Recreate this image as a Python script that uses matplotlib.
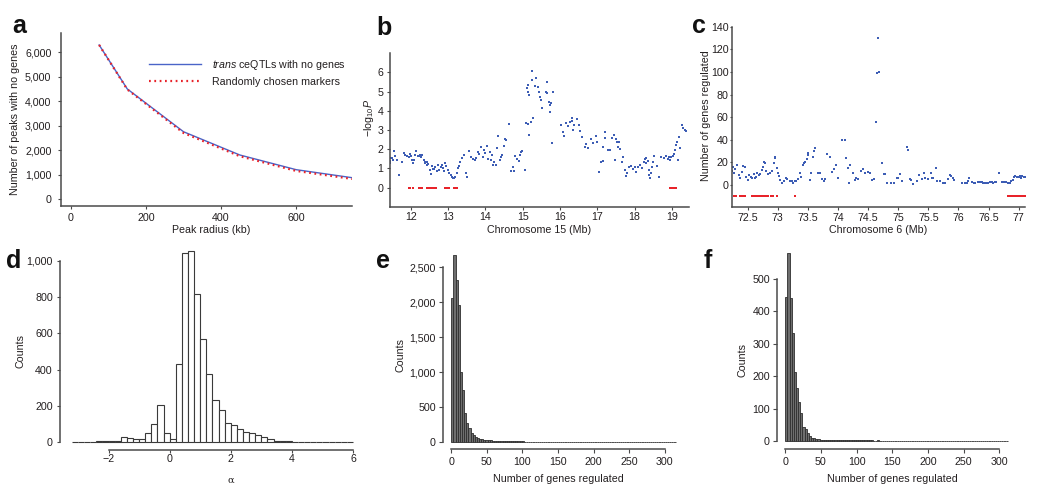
import matplotlib
matplotlib.use('Agg')
import matplotlib.pyplot as plt
from matplotlib.ticker import FuncFormatter

plt.rcParams['font.family'] = ['Liberation Sans', 'DejaVu Sans']
plt.rcParams['mathtext.fontset'] = 'custom'
plt.rcParams['mathtext.rm'] = 'Liberation Sans'
plt.rcParams['mathtext.it'] = 'Liberation Sans:italic'
plt.rcParams['mathtext.bf'] = 'Liberation Sans:bold'

# ---------------- data ----------------
# panel a
radius_kb = [75, 150, 300, 450, 600, 750]
peaks_trans = [6300, 4500, 2750, 1800, 1200, 870]
peaks_random = [6300, 4480, 2700, 1750, 1150, 820]

# panel b  (chromosome 15, -log10 P)
b_x = [11.41, 11.42, 11.43, 11.44, 11.45, 11.49, 11.52, 11.55, 11.58, 11.63, 11.69, 11.75, 11.81, 11.85, 11.9,
       11.94, 11.97, 12.0, 12.03, 12.05, 12.08, 12.12, 12.15, 12.18, 12.21, 12.24, 12.28, 12.31, 12.34, 12.37,
       12.39, 12.42, 12.44, 12.47, 12.5, 12.53, 12.56, 12.6, 12.63, 12.66, 12.69, 12.73, 12.76, 12.8, 12.83,
       12.86, 12.89, 12.92, 12.95, 12.99, 13.03, 13.08, 13.11, 13.13, 13.16, 13.19, 13.23, 13.26, 13.29, 13.32,
       13.37, 13.43, 13.49, 13.51, 13.57, 13.62, 13.66, 13.71, 13.75, 13.8, 13.84, 13.87, 13.93, 13.97, 14.0,
       14.04, 14.07, 14.11, 14.15, 14.17, 14.2, 14.24, 14.29, 14.3, 14.33, 14.38, 14.42, 14.45, 14.49, 14.52,
       14.56, 14.64, 14.69, 14.74, 14.77, 14.8, 14.84, 14.89, 14.93, 14.96, 14.99, 15.06, 15.1, 15.11, 15.13,
       15.14, 15.15, 15.17, 15.18, 15.21, 15.24, 15.26, 15.28, 15.33, 15.36, 15.41, 15.44, 15.46, 15.49, 15.53,
       15.62, 15.64, 15.66, 15.7, 15.72, 15.73, 15.75, 15.78, 15.82, 16.04, 16.09, 16.1, 16.16, 16.22, 16.27,
       16.31, 16.33, 16.36, 16.38, 16.45, 16.5, 16.54, 16.6, 16.66, 16.7, 16.74, 16.84, 16.88, 16.96, 17.0,
       17.04, 17.11, 17.15, 17.15, 17.2, 17.22, 17.29, 17.35, 17.4, 17.46, 17.48, 17.5, 17.53, 17.56, 17.58,
       17.6, 17.67, 17.7, 17.73, 17.77, 17.8, 17.84, 17.91, 17.95, 18.0, 18.05, 18.1, 18.15, 18.2, 18.24,
       18.28, 18.3, 18.32, 18.35, 18.38, 18.4, 18.42, 18.44, 18.47, 18.5, 18.53, 18.6, 18.66, 18.72, 18.78,
       18.84, 18.9, 18.93, 18.96, 18.99, 19.02, 19.05, 19.08, 19.11, 19.14, 19.17, 19.2, 19.23, 19.26, 19.3,
       19.34, 19.39]
b_y = [1.85, 1.6, 1.4, 1.3, 1.55, 1.53, 1.45, 1.88, 1.62, 1.44, 0.63, 1.35, 1.79, 1.7, 1.62,
       1.6, 1.75, 1.62, 1.45, 1.27, 1.44, 1.7, 1.88, 1.62, 1.65, 1.68, 1.6, 1.7, 1.44, 1.35,
       1.27, 1.15, 1.35, 1.25, 0.9, 0.73, 1.1, 0.98, 0.95, 1.05, 0.85, 1.15, 0.9, 1.05, 1.15,
       1.0, 0.85, 1.27, 1.1, 0.9, 0.78, 0.66, 0.55, 0.5, 0.48, 0.55, 0.75, 1.0, 1.1, 1.35,
       1.53, 1.7, 0.75, 0.57, 1.88, 1.58, 1.48, 1.44, 1.53, 1.83, 1.75, 2.1, 1.6, 1.95, 1.8,
       2.17, 1.5, 1.83, 1.45, 1.7, 1.2, 1.35, 1.2, 2.05, 2.7, 1.44, 1.6, 1.7, 2.17, 2.53,
       2.48, 3.33, 0.86, 1.06, 0.86, 1.62, 1.48, 1.4, 1.7, 1.83, 1.88, 0.92, 3.37, 5.17, 5.0,
       3.3, 5.35, 2.75, 4.83, 3.43, 5.61, 6.1, 3.6, 5.3, 5.7, 5.25, 4.97, 4.74, 4.57, 4.17,
       5.0, 5.52, 4.95, 4.46, 4.3, 3.93, 4.42, 2.31, 5.0, 3.26, 2.87, 2.71, 3.38, 3.2, 3.4,
       3.6, 3.45, 3.0, 3.25, 3.56, 3.26, 2.97, 2.66, 2.1, 2.28, 2.05, 2.51, 2.34, 2.69, 2.4,
       0.83, 1.35, 1.4, 2.1, 2.92, 2.6, 1.96, 1.96, 2.57, 2.75, 1.41, 2.55, 2.4, 2.1, 2.4,
       2.0, 1.35, 1.58, 0.92, 0.61, 0.75, 1.06, 1.1, 0.95, 1.05, 0.8, 1.05, 1.15, 1.03, 1.35,
       1.48, 1.52, 1.27, 1.4, 0.92, 0.66, 0.49, 0.75, 1.06, 1.35, 1.62, 1.13, 0.57, 1.6, 1.52,
       1.62, 1.5, 1.58, 1.45, 1.6, 1.65, 1.75, 1.96, 2.22, 2.4, 1.45, 2.62, 2.05, 3.25, 3.1,
       3.0, 2.95]
b_genes = [11.95, 11.98, 12.05, 12.21, 12.23, 12.27, 12.31, 12.43, 12.45, 12.47, 12.49, 12.51, 12.53,
           12.55, 12.57, 12.59, 12.61, 12.63, 12.65, 12.67, 12.92, 12.94, 12.96, 12.98, 13.01, 13.15,
           13.17, 13.19, 13.21, 13.23, 13.25, 18.96, 18.98, 19.0, 19.02, 19.04, 19.06, 19.08, 19.1, 19.12]

# panel c  (chromosome 6, number of genes regulated)
c_x = [72.24, 72.25, 72.27, 72.29, 72.32, 72.35, 72.38, 72.41, 72.43, 72.45, 72.48, 72.5, 72.53, 72.55,
       72.58, 72.6, 72.62, 72.64, 72.66, 72.69, 72.71, 72.73, 72.75, 72.77, 72.79, 72.81, 72.84, 72.87,
       72.9, 72.93, 72.95, 72.96, 72.98, 73.0, 73.02, 73.04, 73.07, 73.1, 73.13, 73.16, 73.2, 73.23,
       73.26, 73.29, 73.31, 73.34, 73.37, 73.39, 73.42, 73.44, 73.46, 73.48, 73.5, 73.51, 73.53, 73.56,
       73.59, 73.6, 73.62, 73.67, 73.7, 73.73, 73.76, 73.79, 73.82, 73.86, 73.9, 73.94, 73.97, 74.0,
       74.07, 74.11, 74.13, 74.17, 74.18, 74.2, 74.25, 74.28, 74.3, 74.33, 74.39, 74.42, 74.45, 74.5,
       74.53, 74.56, 74.59, 74.63, 74.64, 74.67, 74.68, 74.73, 74.76, 74.78, 74.82, 74.88, 74.93, 74.98,
       75.0, 75.03, 75.07, 75.14, 75.17, 75.2, 75.22, 75.25, 75.32, 75.35, 75.39, 75.42, 75.45, 75.5,
       75.54, 75.56, 75.58, 75.62, 75.65, 75.69, 75.75, 75.78, 75.82, 75.86, 75.88, 75.91, 75.93, 76.06,
       76.11, 76.14, 76.16, 76.18, 76.22, 76.25, 76.28, 76.33, 76.36, 76.39, 76.41, 76.44, 76.47, 76.49,
       76.52, 76.55, 76.58, 76.6, 76.63, 76.68, 76.72, 76.76, 76.79, 76.82, 76.85, 76.88, 76.91, 76.93,
       76.94, 76.97, 77.0, 77.02, 77.04, 77.06, 77.09, 77.12]
c_y = [12, 16, 11, 14, 17.7, 8.8, 5.9, 11.8, 16.8, 15.7, 7.4, 4.4, 8.8, 7.4, 5.9, 9.5, 6.5, 7.4,
       10.9, 8.8, 9.5, 13.3, 16.2, 20.1, 19.2, 12, 9.5, 10.9, 12.5, 19.2, 23.6, 25.1, 14.7, 10.3, 8.0,
       4.4, 2.1, 3.8, 5.9, 5.0, 3.8, 3.2, 2.1, 3.2, 3.2, 5.0, 10.9, 7.4, 17.5, 19.2, 20.6, 23, 26.8,
       28.3, 4.4, 10.3, 25, 30.4, 32.4, 10.3, 10.3, 5.0, 3.8, 5.0, 27.4, 25, 11.8, 14, 17.7, 6.5,
       39.8, 39.8, 24.2, 15.3, 2.1, 18, 10.3, 4.4, 5.9, 5.0, 12.4, 14, 10.9, 11.8, 10.3, 4.4, 5.0,
       56, 99, 130, 100.3, 19.2, 9.4, 9.4, 1.5, 1.5, 2.1, 6.5, 5.9, 9.4, 3.2, 33.3, 31, 5.0,
       4.4, 0.9, 3.2, 8.8, 5.0, 10.3, 5.9, 5.0, 10.3, 6.5, 5.9, 14.7, 3.2, 3.2, 2.1, 2.1, 5.0,
       8.8, 8.3, 5.9, 4.4, 2.1, 2.1, 2.1, 3.5, 5.9, 2.6, 2.1, 2.1, 2.6, 2.6, 2.3, 2.1, 1.5, 2.1,
       1.5, 2.6, 2.6, 2.1, 2.6, 2.6, 10.3, 2.6, 2.6, 2.3, 1.5, 2.1, 3.8, 4.4, 7.4, 8.0, 6.8, 7.4,
       8.0, 6.5, 8.3, 7.4, 7.4]
c_genes = [72.28, 72.31, 72.37, 72.41, 72.43, 72.46, 72.57, 72.59, 72.61, 72.63, 72.65, 72.67, 72.69,
           72.71, 72.73, 72.75, 72.77, 72.79, 72.81, 72.83, 72.88, 72.92, 72.98, 73.28, 76.83, 76.85,
           76.87, 76.89, 76.91, 76.93, 76.95, 76.97, 76.99, 77.01, 77.03, 77.05, 77.07, 77.09, 77.11]

# panel d  (histogram of alpha, bin width 0.2 from -3.2)
alpha_edges_start = -3.2
alpha_bin = 0.2
alpha_counts = [0, 0, 1, 2, 3, 4, 6, 7, 30, 22, 14, 17, 48, 100, 205, 50, 16, 430, 1046, 1057,
                816, 569, 374, 234, 176, 105, 92, 70, 57, 48, 37, 26, 15, 8, 5, 3, 2, 2, 1, 1,
                1, 0, 0, 0, 0, 0]

# panel e  (histogram, bin width 3)
e_bin = 3
e_counts = [2064, 2680, 2320, 1960, 1006, 744, 420, 267, 196, 134, 100, 76, 62, 45, 40, 34, 30, 26,
            22, 20, 18, 16, 15, 14, 12, 12, 11, 10, 10, 9, 9, 8, 8, 8, 7, 7, 7, 6, 6, 6, 6, 5, 5, 5,
            5, 5, 4, 4, 4, 4, 4, 4, 3, 3, 3, 3, 3, 3, 3, 3, 3, 2, 2, 2, 2, 2, 2, 2, 2, 2, 2, 2, 2, 2,
            2, 2, 2, 2, 2, 2, 2, 2, 2, 2, 2, 2, 2, 2, 2, 2, 2, 2, 2, 2, 2, 2, 2, 2, 2, 2, 2, 2, 2, 2, 2]

# panel f  (histogram, bin width 3)
f_bin = 3
f_counts = [442, 580, 440, 332, 213, 162, 121, 85, 44, 38, 25, 15, 10, 8, 6, 5, 4, 3, 3, 3, 2, 2, 2,
            3, 2, 2, 2, 2, 2, 3, 2, 2, 2, 2, 2, 2, 2, 2, 3, 2, 2, 1, 1, 2, 1, 1, 1, 1, 1, 1, 1, 1, 1,
            1, 1, 1, 1, 1, 1, 1, 1, 1, 1, 1, 1, 1, 1, 1, 1, 1, 1, 1, 1, 1, 1, 1, 1, 1, 1, 1, 1, 1, 1,
            1, 1, 1, 1, 1, 1, 1, 1, 1, 1, 1, 1, 1, 1, 1, 1, 1, 1, 1, 1, 1]

# ---------------- drawing ----------------
W, H = 1050, 497
fig = plt.figure(figsize=(10.5, 4.97), dpi=100)
TXT = '#231f20'
SP = '#4a4a4a'
FS = 7.7
BLUE = '#3d5db5'
RED = '#e8232a'


def axpx(l, t, r, b):
    return fig.add_axes([l / W, 1 - b / H, (r - l) / W, (b - t) / H])


def ftext(x, y, s, **kw):
    kw.setdefault('color', TXT)
    kw.setdefault('fontsize', FS)
    kw.setdefault('ha', 'center')
    kw.setdefault('va', 'center')
    fig.text(x / W, 1 - y / H, s, **kw)


def style(ax, xpad, ypad, xlen=2.4, ylen=2.4):
    for s in ['top', 'right']:
        ax.spines[s].set_visible(False)
    for s in ['left', 'bottom']:
        ax.spines[s].set_color(SP)
        ax.spines[s].set_linewidth(1.1)
    ax.tick_params(axis='x', direction='out', length=xlen, width=0.8, color=SP,
                   labelsize=FS, labelcolor=TXT, pad=xpad)
    ax.tick_params(axis='y', direction='out', length=ylen, width=0.8, color=SP,
                   labelsize=FS, labelcolor=TXT, pad=ypad)
    ax.patch.set_alpha(0)


comma = FuncFormatter(lambda v, p: f'{int(round(v)):,}')

# ---- a ----
axa = axpx(61, 33.3, 352, 206)
axa.plot(radius_kb, peaks_trans, color='#4a64c8', lw=1.0, label=r'$\it{trans}$ ceQTLs with no genes')
axa.plot(radius_kb, peaks_random, color=RED, lw=1.6, ls=(0, (0.8, 1.6)), label='Randomly chosen markers')
axa.set_xlim(-26.7, 749)
axa.set_ylim(-286, 6777)
axa.set_xticks([0, 200, 400, 600])
axa.set_yticks([0, 1000, 2000, 3000, 4000, 5000, 6000])
axa.yaxis.set_major_formatter(comma)
style(axa, xpad=2.5, ypad=4.5)
axa.legend(loc='upper left', bbox_to_anchor=(149 / W, 1 - 58 / H), bbox_transform=fig.transFigure,
           frameon=False, fontsize=FS, handlelength=4.9, handletextpad=0.95, labelspacing=0.45,
           borderpad=0, borderaxespad=0, labelcolor=TXT)
ftext(15, 119, 'Number of peaks with no genes', rotation=90)
ftext(211.5, 230, 'Peak radius (kb)')

# ---- b ----
axb = axpx(390, 53.3, 689, 206.7)
axb.scatter(b_x, b_y, s=3.5, marker='s', color=BLUE, linewidths=0)
axb.plot(b_genes, [0] * len(b_genes), ls='none', marker='s', ms=1.8, mew=0, color=RED)
axb.set_xlim(11.44, 19.46)
axb.set_ylim(-1, 7)
axb.set_xticks(list(range(12, 20)))
axb.set_yticks(list(range(0, 7)))
style(axb, xpad=1.5, ypad=2.5)
ftext(368.5, 118, r'$-\mathrm{log}_{10}\mathit{P}$', rotation=90)
ftext(539.5, 230, 'Chromosome 15 (Mb)')

# ---- c ----
axc = axpx(732.3, 26.7, 1025, 207.3)
axc.scatter(c_x, c_y, s=2.5, marker='s', color=BLUE, linewidths=0)
axc.plot(c_genes, [-10] * len(c_genes), ls='none', marker='s', ms=1.8, mew=0, color=RED)
axc.set_xlim(72.245, 77.105)
axc.set_ylim(-19.7, 140)
ct = [72.5, 73, 73.5, 74, 74.5, 75, 75.5, 76, 76.5, 77]
axc.set_xticks(ct)
axc.set_xticklabels([('%g' % v) for v in ct])
axc.set_yticks(list(range(0, 141, 20)))
style(axc, xpad=1.5, ypad=0.8, ylen=1.8)
ftext(706, 116, 'Number of genes regulated', rotation=90)
ftext(878.5, 230, 'Chromosome 6 (Mb)')

# ---- d ----
axd = axpx(60, 248.3, 354.5, 450)
d_left = [alpha_edges_start + i * alpha_bin for i in range(len(alpha_counts))]
axd.bar(d_left, alpha_counts, width=alpha_bin, align='edge', facecolor='white',
        edgecolor='#3a3a3a', linewidth=0.8)
axd.set_xlim(-3.59, 6.05)
axd.set_ylim(-44, 1070)
axd.set_xticks([-2, 0, 2, 4, 6])
axd.set_xticklabels(['\u22122', '0', '2', '4', '6'])
axd.set_yticks([0, 200, 400, 600, 800, 1000])
axd.yaxis.set_major_formatter(comma)
style(axd, xpad=0.6, ypad=2.8)
axd.spines['left'].set_bounds(0, 1000)
axd.spines['bottom'].set_bounds(-2, 6)
ftext(20, 351.5, 'Counts', rotation=90)
ftext(231, 480, '\u03b1', fontsize=7, family='DejaVu Serif')

# ---- e ----
axe = axpx(443.3, 253.3, 677, 449.3)
e_left = [i * e_bin for i in range(len(e_counts))]
axe.bar(e_left, e_counts, width=e_bin, align='edge', facecolor='#6e6e6e',
        edgecolor='#2e2e2e', linewidth=0.6)
axe.set_xlim(-11.2, 317)
axe.set_ylim(-104, 2700)
axe.set_xticks(list(range(0, 301, 50)))
axe.set_yticks([0, 500, 1000, 1500, 2000, 2500])
axe.yaxis.set_major_formatter(comma)
style(axe, xpad=2.9, ypad=2.4, xlen=2.9, ylen=2.9)
axe.spines['left'].set_bounds(0, 2500)
axe.spines['bottom'].set_bounds(0, 300)
ftext(401, 354.7, 'Counts', rotation=90)
ftext(558, 479, 'Number of genes regulated')

# ---- f ----
axf = axpx(777.3, 251, 1012, 449.3)
f_left = [i * f_bin for i in range(len(f_counts))]
axf.bar(f_left, f_counts, width=f_bin, align='edge', facecolor='#6e6e6e',
        edgecolor='#2e2e2e', linewidth=0.6)
axf.set_xlim(-11.2, 318)
axf.set_ylim(-25.6, 585)
axf.set_xticks(list(range(0, 301, 50)))
axf.set_yticks([0, 100, 200, 300, 400, 500])
style(axf, xpad=2.9, ypad=2.4, xlen=2.9, ylen=2.9)
axf.spines['left'].set_bounds(0, 500)
axf.spines['bottom'].set_bounds(0, 300)
ftext(742, 360, 'Counts', rotation=90)
ftext(892.3, 479, 'Number of genes regulated')

# panel letters
for lx, ly, s in [(12, 33, 'a'), (376, 35, 'b'), (692, 33, 'c'), (6, 268, 'd'), (376, 268, 'e'), (704, 268, 'f')]:
    fig.text(lx / W, 1 - ly / H, s, fontsize=18, fontweight='bold', color='#111111',
             ha='left', va='baseline')

fig.savefig('out.png', dpi=100)
